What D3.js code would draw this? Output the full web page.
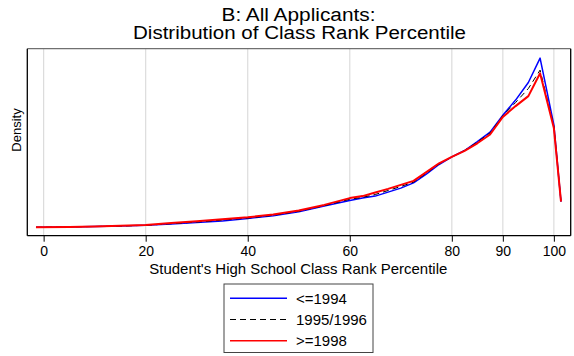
<!DOCTYPE html>
<html>
<head>
<meta charset="utf-8">
<script src="https://cdn.jsdelivr.net/npm/d3@7"></script>
<style>
  html, body { margin: 0; padding: 0; background: #fff; }
  svg { display: block; font-family: "Liberation Sans", Arial, sans-serif; }
</style>
</head>
<body>
<svg id="chart" width="574" height="356"></svg>
<script>
// Class rank percentile evaluation points
const percentile = [-1.5, 5, 10, 15, 20, 25, 30, 35, 40, 45, 50, 55, 60, 62.5, 65, 67.5, 70, 72.5, 75, 77.5, 80, 82.5, 85, 87.5, 90, 92.5, 95, 97.3, 100, 101.4];

// Estimated densities by applicant cohort
const dens1994 = [0.0021, 0.0022, 0.0023, 0.0024, 0.0026, 0.0029, 0.0033, 0.0037, 0.0043, 0.0050, 0.0060, 0.0074, 0.0088, 0.0094, 0.0099, 0.0109, 0.0119, 0.0132, 0.0154, 0.0178, 0.0197, 0.0213, 0.0235, 0.0259, 0.0301, 0.0339, 0.0383, 0.0444, 0.0277, 0.0085];
const dens1996 = [0.0021, 0.0022, 0.0023, 0.0024, 0.0026, 0.0030, 0.0034, 0.0039, 0.0044, 0.0051, 0.0061, 0.0075, 0.0091, 0.0096, 0.0103, 0.0113, 0.0123, 0.0134, 0.0156, 0.0179, 0.0197, 0.0213, 0.0234, 0.0257, 0.0300, 0.0333, 0.0368, 0.0414, 0.0273, 0.0085];
const dens1998 = [0.0021, 0.0022, 0.0023, 0.0025, 0.0027, 0.0032, 0.0036, 0.0041, 0.0046, 0.0053, 0.0063, 0.0077, 0.0094, 0.0099, 0.0108, 0.0117, 0.0127, 0.0137, 0.0159, 0.0181, 0.0197, 0.0212, 0.0231, 0.0253, 0.0297, 0.0324, 0.0349, 0.0406, 0.0269, 0.0085];

const seriesNames = ["<=1994", "1995/1996", ">=1998"];
const xTicks = [0, 20, 40, 60, 80, 90, 100];

const svg = d3.select("#chart");
const plot = { left: 27.3, right: 570.7, top: 48.7, bottom: 235.7 };

const x = d3.scaleLinear().domain([-3.2, 103.3]).range([plot.left, plot.right]);
const y = d3.scaleLinear().domain([0, 0.04675]).range([plot.bottom, plot.top]);

// Title (two lines, slightly wide lettering)
const title = svg.append("g").attr("font-size", 18).attr("fill", "#000");
title.append("text").attr("x", 221.5).attr("y", 20.5)
  .attr("textLength", 154).attr("lengthAdjust", "spacingAndGlyphs").text("B: All Applicants:");
title.append("text").attr("x", 133).attr("y", 39)
  .attr("textLength", 333).attr("lengthAdjust", "spacingAndGlyphs").text("Distribution of Class Rank Percentile");

// Vertical grid lines
svg.append("g").selectAll("line").data(xTicks).join("line")
  .attr("x1", d => x(d)).attr("x2", d => x(d))
  .attr("y1", plot.top).attr("y2", plot.bottom)
  .attr("stroke", "#dcdcdc").attr("stroke-width", 1.2);

// X axis
const xAxis = svg.append("g")
  .attr("transform", `translate(0,${plot.bottom})`)
  .call(d3.axisBottom(x).tickValues(xTicks).tickSize(6).tickPadding(4).tickSizeOuter(0));
xAxis.select(".domain").remove();
xAxis.selectAll(".tick line").attr("stroke", "#000").attr("stroke-width", 1);
xAxis.selectAll(".tick text").attr("font-size", 14).attr("fill", "#000")
  .attr("font-family", "Liberation Sans, Arial, sans-serif");

// Density lines
const line = d3.line().x((d, i) => x(percentile[i])).y(d => y(d));
const styles = [
  { data: dens1994, color: "#0000ff", width: 1.5, dash: null },
  { data: dens1996, color: "#000000", width: 1, dash: "6,4" },
  { data: dens1998, color: "#ff0000", width: 2, dash: null }
];
svg.append("g").selectAll("path").data(styles).join("path")
  .attr("d", s => line(s.data))
  .attr("fill", "none")
  .attr("stroke", s => s.color)
  .attr("stroke-width", s => s.width)
  .attr("stroke-dasharray", s => s.dash)
  .attr("stroke-linejoin", "round");

// Plot frame
svg.append("line").attr("x1", plot.left).attr("x2", plot.right).attr("y1", plot.top).attr("y2", plot.top)
  .attr("stroke", "#707070").attr("stroke-width", 1.3);
svg.append("line").attr("x1", plot.right).attr("x2", plot.right).attr("y1", plot.top).attr("y2", plot.bottom)
  .attr("stroke", "#000").attr("stroke-width", 1.3);
svg.append("line").attr("x1", plot.left).attr("x2", plot.left).attr("y1", plot.top).attr("y2", plot.bottom)
  .attr("stroke", "#000").attr("stroke-width", 1.3);
svg.append("line").attr("x1", plot.left).attr("x2", plot.right).attr("y1", plot.bottom).attr("y2", plot.bottom)
  .attr("stroke", "#000").attr("stroke-width", 1.3);

// Axis titles
svg.append("text").attr("x", 149.3).attr("y", 274.3)
  .attr("font-size", 15).attr("textLength", 298).attr("lengthAdjust", "spacingAndGlyphs")
  .text("Student's High School Class Rank Percentile");
svg.append("text").attr("transform", "translate(21,130) rotate(-90)").attr("text-anchor", "middle")
  .attr("font-size", 13).text("Density");

// Legend
const legend = svg.append("g");
legend.append("rect").attr("x", 224).attr("y", 284).attr("width", 149).attr("height", 68.5)
  .attr("fill", "#fff").attr("stroke", "#444").attr("stroke-width", 1);
const rows = legend.selectAll("g").data(styles).join("g")
  .attr("transform", (d, i) => `translate(0,${298.3 + i * 21.2})`);
rows.append("line").attr("x1", 230).attr("x2", 287).attr("y1", 0).attr("y2", 0)
  .attr("stroke", s => s.color).attr("stroke-width", s => s.dash ? 1 : 1.5)
  .attr("stroke-dasharray", s => s.dash);
rows.append("text").attr("x", 296).attr("y", 5.3).attr("font-size", 15)
  .text((d, i) => seriesNames[i]);
</script>
</body>
</html>
